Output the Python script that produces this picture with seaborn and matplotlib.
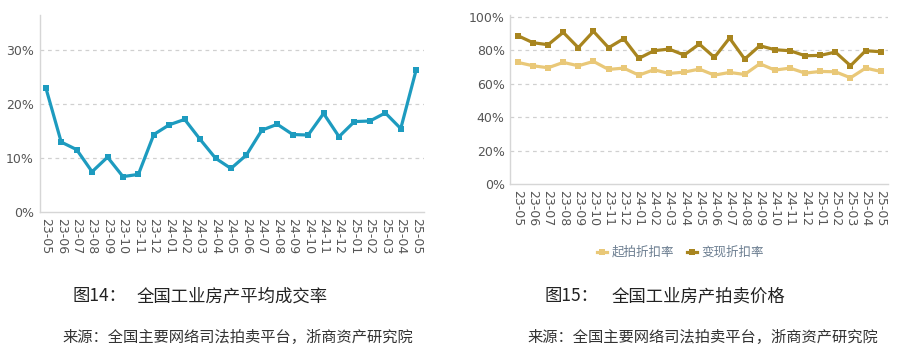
import pandas as pd
import matplotlib
matplotlib.use("Agg")
import matplotlib.pyplot as plt
import seaborn as sns
from matplotlib.ticker import FuncFormatter

months = ["23-05", "23-06", "23-07", "23-08", "23-09", "23-10", "23-11", "23-12",
          "24-01", "24-02", "24-03", "24-04", "24-05", "24-06", "24-07", "24-08",
          "24-09", "24-10", "24-11", "24-12", "25-01", "25-02", "25-03", "25-04", "25-05"]

# 平均成交率 (%)
deal_rate = [23.1, 13.0, 11.6, 7.5, 10.2, 6.6, 7.0, 14.4, 16.2, 17.2, 13.5, 10.0, 8.1,
             10.6, 15.2, 16.3, 14.4, 14.3, 18.3, 14.0, 16.8, 16.9, 18.4, 15.5, 26.4]

# 起拍折扣率 / 变现折扣率 (%)
start_discount = [72.8, 70.8, 69.6, 72.8, 70.8, 73.4, 68.6, 69.4, 65.2, 68.4, 66.2, 67.0, 68.8,
                  65.2, 66.8, 65.6, 72.0, 68.2, 69.4, 66.4, 67.4, 67.2, 63.6, 69.4, 67.4]
cash_discount = [88.8, 84.6, 83.4, 90.8, 81.6, 91.4, 81.6, 87.0, 75.2, 79.8, 80.8, 77.2, 83.8,
                 75.8, 87.4, 74.8, 82.8, 80.4, 79.8, 76.8, 77.0, 79.0, 70.8, 79.8, 79.2]

plt.rcParams["font.family"] = ["DejaVu Sans", "Noto Sans CJK SC"]
cjk = ["Noto Sans CJK SC", "DejaVu Sans"]

teal = "#1d9bbf"
dark_gold = "#a8851f"
light_gold = "#e9c878"
grid_c = "#d0d0d0"
tick_c = "#555555"

df = pd.DataFrame({"month": months, "idx": range(len(months)),
                   "deal": deal_rate, "start": start_discount, "cash": cash_discount})

fig = plt.figure(figsize=(9, 3.56), dpi=100)
ax1 = fig.add_axes([0.044, 0.404, 0.427, 0.553])
ax2 = fig.add_axes([0.567, 0.483, 0.420, 0.474])

pct = FuncFormatter(lambda v, p: f"{v:.0f}%")


def style(ax, ticks):
    ax.set_yticks(ticks)
    ax.yaxis.set_major_formatter(pct)
    ax.set_xticks(df["idx"])
    ax.set_xticklabels(months, rotation=-90)
    ax.tick_params(length=0, labelsize=9, colors=tick_c, pad=4)
    for t in ticks[1:]:
        ax.axhline(t, color=grid_c, lw=0.9, ls=(0, (3, 3)), zorder=0)
    for s in ["top", "right"]:
        ax.spines[s].set_visible(False)
    for s in ["left", "bottom"]:
        ax.spines[s].set_color("#d6d6d6")
        ax.spines[s].set_linewidth(1.0)
    ax.set_xlabel("")
    ax.set_ylabel("")


sns.lineplot(data=df, x="idx", y="deal", ax=ax1, color=teal, lw=2.3,
             marker="s", markersize=5, markeredgewidth=0)
ax1.set_xlim(-0.4, 24.5)
ax1.set_ylim(0, 36.5)
style(ax1, [0, 10, 20, 30])

sns.lineplot(data=df, x="idx", y="start", ax=ax2, color=light_gold, lw=2.3,
             marker="s", markersize=5, markeredgewidth=0, label="起拍折扣率")
sns.lineplot(data=df, x="idx", y="cash", ax=ax2, color=dark_gold, lw=2.3,
             marker="s", markersize=5, markeredgewidth=0, label="变现折扣率")
ax2.set_xlim(-0.5, 24.5)
ax2.set_ylim(0, 101)
style(ax2, [0, 20, 40, 60, 80, 100])

leg = ax2.legend(loc="upper center", bbox_to_anchor=(0.45, -0.30), ncol=2, frameon=False,
                 prop={"family": cjk, "size": 9}, handlelength=0.8, handletextpad=0.4,
                 columnspacing=1.0)
for t in leg.get_texts():
    t.set_color("#6b7d90")

# captions
fig.text(72 / 900, 0.168, "图14：", family=cjk, fontsize=12.5, color="#222222", va="center")
fig.text(137 / 900, 0.168, "全国工业房产平均成交率", family=cjk, fontsize=12.5,
         color="#222222", va="center")
fig.text(62 / 900, 0.053, "来源：全国主要网络司法拍卖平台，浙商资产研究院", family=cjk,
         fontsize=11, color="#333333", va="center")
fig.text(545 / 900, 0.168, "图15：", family=cjk, fontsize=12.5, color="#222222", va="center")
fig.text(612 / 900, 0.168, "全国工业房产拍卖价格", family=cjk, fontsize=12.5,
         color="#222222", va="center")
fig.text(527 / 900, 0.053, "来源：全国主要网络司法拍卖平台，浙商资产研究院", family=cjk,
         fontsize=11, color="#333333", va="center")

fig.savefig("out.png", dpi=100, facecolor="white")
